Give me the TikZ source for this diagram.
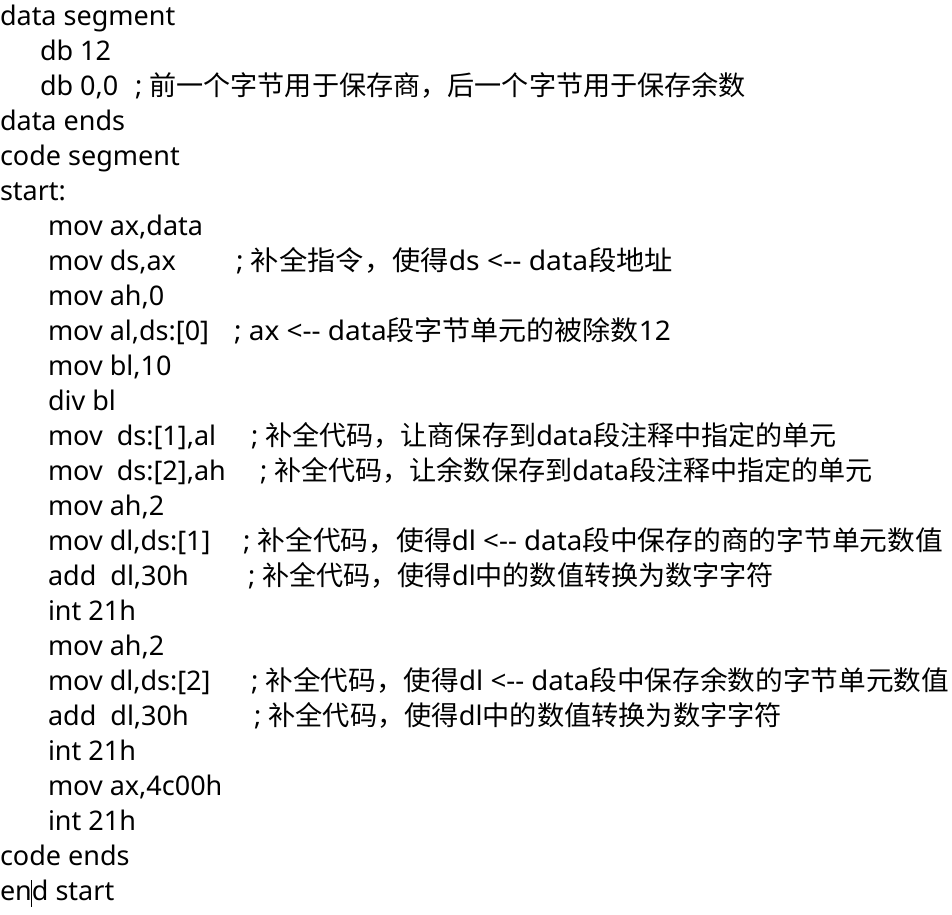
\documentclass[tikz,border=0pt]{standalone}
\usepackage{fontspec}
\setmainfont{Noto Sans}[Ligatures=TeXOff]
\newfontfamily\zh{Noto Sans CJK SC}
\newcommand\fitbox[2]{%
  \setbox0=\hbox{#2}\dimen0=\wd0
  \pgfmathsetmacro\fitfac{#1/\the\dimen0}%
  \scalebox{\fitfac}[1]{\box0}}
\tikzset{
  codeline/.style={anchor=base west, inner sep=0pt, outer sep=0pt, font=\fontsize{27pt}{35pt}\selectfont, text=black},
}
\begin{document}
\begin{tikzpicture}[x=1pt,y=1pt]
\useasboundingbox[fill=white] (0,0) rectangle (952,-914);
% code column
\node[codeline] (l0)  at (0,-25)  {data segment};
\node[codeline] (l1)  at (40,-60) {db 12};
\node[codeline] (l2)  at (40,-95) {db 0,0};
\node[codeline] (l3)  at (0,-130) {data ends};
\node[codeline] (l4)  at (0,-165) {code segment};
\node[codeline] (l5)  at (0,-200) {start:};
\node[codeline] (l6)  at (48,-235) {mov ax,data};
\node[codeline] (l7)  at (48,-270) {mov ds,ax};
\node[codeline] (l8)  at (48,-305) {mov ah,0};
\node[codeline] (l9)  at (48,-340) {mov al,ds:[0]};
\node[codeline] (l10) at (48,-375) {mov bl,10};
\node[codeline] (l11) at (48,-410) {div bl};
\node[codeline] (l12) at (48,-445) {mov\ \ ds:[1],al};
\node[codeline] (l13) at (48,-480) {mov\ \ ds:[2],ah};
\node[codeline] (l14) at (48,-515) {mov ah,2};
\node[codeline] (l15) at (48,-550) {mov dl,ds:[1]};
\node[codeline] (l16) at (48,-585) {add\ \ dl,30h};
\node[codeline] (l17) at (48,-620) {int 21h};
\node[codeline] (l18) at (48,-655) {mov ah,2};
\node[codeline] (l19) at (48,-690) {mov dl,ds:[2]};
\node[codeline] (l20) at (48,-725) {add\ \ dl,30h};
\node[codeline] (l21) at (48,-760) {int 21h};
\node[codeline] (l22) at (48,-795) {mov ax,4c00h};
\node[codeline] (l23) at (48,-830) {int 21h};
\node[codeline] (l24) at (0,-865) {code ends};
\node[codeline] (l25) at (0,-900) {end start};
% comments
\node[codeline] (c2)  at (135,-95)  {\fitbox{611}{; {\zh 前一个字节用于保存商，后一个字节用于保存余数}}};
\node[codeline] (c7)  at (236,-270) {\fitbox{437}{; {\zh 补全指令，使得}ds <-- data{\zh 段地址}}};
\node[codeline] (c9)  at (234,-340) {\fitbox{437}{; ax <-- data{\zh 段字节单元的被除数}12}};
\node[codeline] (c12) at (251,-445) {\fitbox{586}{; {\zh 补全代码，让商保存到}data{\zh 段注释中指定的单元}}};
\node[codeline] (c13) at (260,-480) {\fitbox{613}{; {\zh 补全代码，让余数保存到}data{\zh 段注释中指定的单元}}};
\node[codeline] (c15) at (243,-550) {\fitbox{700}{; {\zh 补全代码，使得}dl <-- data{\zh 段中保存的商的字节单元数值}}};
\node[codeline] (c16) at (248,-585) {\fitbox{526}{; {\zh 补全代码，使得}dl{\zh 中的数值转换为数字字符}}};
\node[codeline] (c19) at (251,-690) {\fitbox{698}{; {\zh 补全代码，使得}dl <-- data{\zh 段中保存余数的字节单元数值}}};
\node[codeline] (c20) at (254,-725) {\fitbox{528}{; {\zh 补全代码，使得}dl{\zh 中的数值转换为数字字符}}};
% text cursor
\draw[line width=1pt, black] (31,-880) -- (31,-907);
\end{tikzpicture}
\end{document}
